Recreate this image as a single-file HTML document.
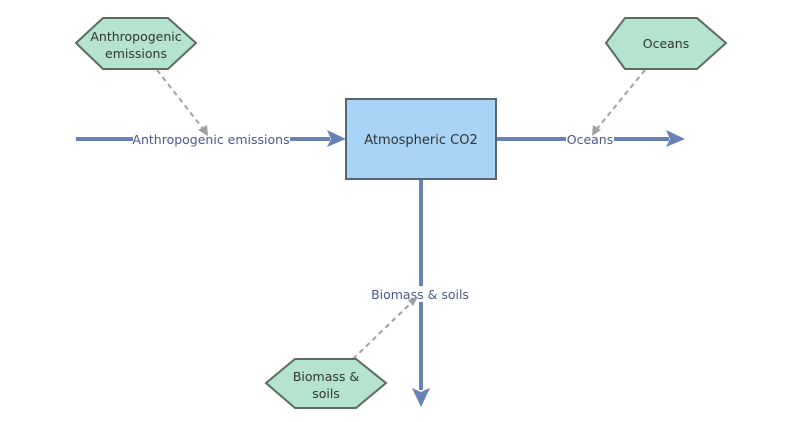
<!DOCTYPE html>
<html><head><meta charset="utf-8"><style>
html,body{margin:0;padding:0;background:#fff;}
svg{display:block;}
text{font-family:"Comic Sans MS","DejaVu Sans","Liberation Sans",sans-serif;}
</style></head><body>
<svg width="800" height="422" viewBox="0 0 800 422" xmlns="http://www.w3.org/2000/svg">
<rect width="800" height="422" fill="#fff"/>
<!-- flows -->
<g stroke="#6a80b8" stroke-width="4" fill="none">
<line x1="76" y1="139" x2="330" y2="139"/>
<line x1="496" y1="139" x2="669" y2="139"/>
<line x1="421" y1="179" x2="421" y2="390"/>
</g>
<g fill="#6a80b8">
<polygon points="327,130 346,139 327,147 331,139"/>
<polygon points="666,130 685,139 666,147 670,139"/>
<polygon points="412,388 421,407 430,388 421,392"/>
</g>
<!-- flow labels -->
<rect x="133" y="131" width="157" height="16" fill="#fff"/>
<text x="211" y="144" font-size="12.5" fill="#4a5a8a" text-anchor="middle">Anthropogenic emissions</text>
<rect x="566" y="131" width="48" height="16" fill="#fff"/>
<text x="590" y="144" font-size="12.5" fill="#4a5a8a" text-anchor="middle">Oceans</text>
<rect x="370" y="286" width="100" height="16" fill="#fff"/>
<text x="420" y="299" font-size="12.5" fill="#4a5a8a" text-anchor="middle">Biomass &amp; soils</text>
<!-- dashed links -->
<g stroke="#a0a0a0" stroke-width="2" stroke-dasharray="5,4" fill="none">
<line x1="157" y1="70" x2="204" y2="130"/>
<line x1="645" y1="70" x2="596" y2="130"/>
<line x1="353" y1="359" x2="412" y2="302"/>
</g>
<g fill="#a0a0a0">
<polygon points="208,136 198,130 207,125"/>
<polygon points="592,136 593,125 601,130"/>
<polygon points="418,297 408,300 413,306"/>
</g>
<!-- box -->
<rect x="346" y="99" width="150" height="80" fill="#a8d4f5" stroke="#5a6470" stroke-width="2"/>
<text x="421" y="144" font-size="13" fill="#333" text-anchor="middle">Atmospheric CO2</text>
<!-- hexagons -->
<g fill="#b4e4cf" stroke="#5d6b62" stroke-width="2">
<polygon points="76,43 103,18 168,18 196,43 168,69 103,69"/>
<polygon points="606,43 625,18 697,18 726,43 697,69 625,69"/>
<polygon points="266,383 295,359 356,359 386,383 356,408 295,408"/>
</g>
<g font-size="12.5" fill="#333" text-anchor="middle">
<text x="136" y="41">Anthropogenic</text>
<text x="136" y="58">emissions</text>
<text x="666" y="48">Oceans</text>
<text x="326" y="381">Biomass &amp;</text>
<text x="326" y="398">soils</text>
</g>
</svg>
</body></html>
